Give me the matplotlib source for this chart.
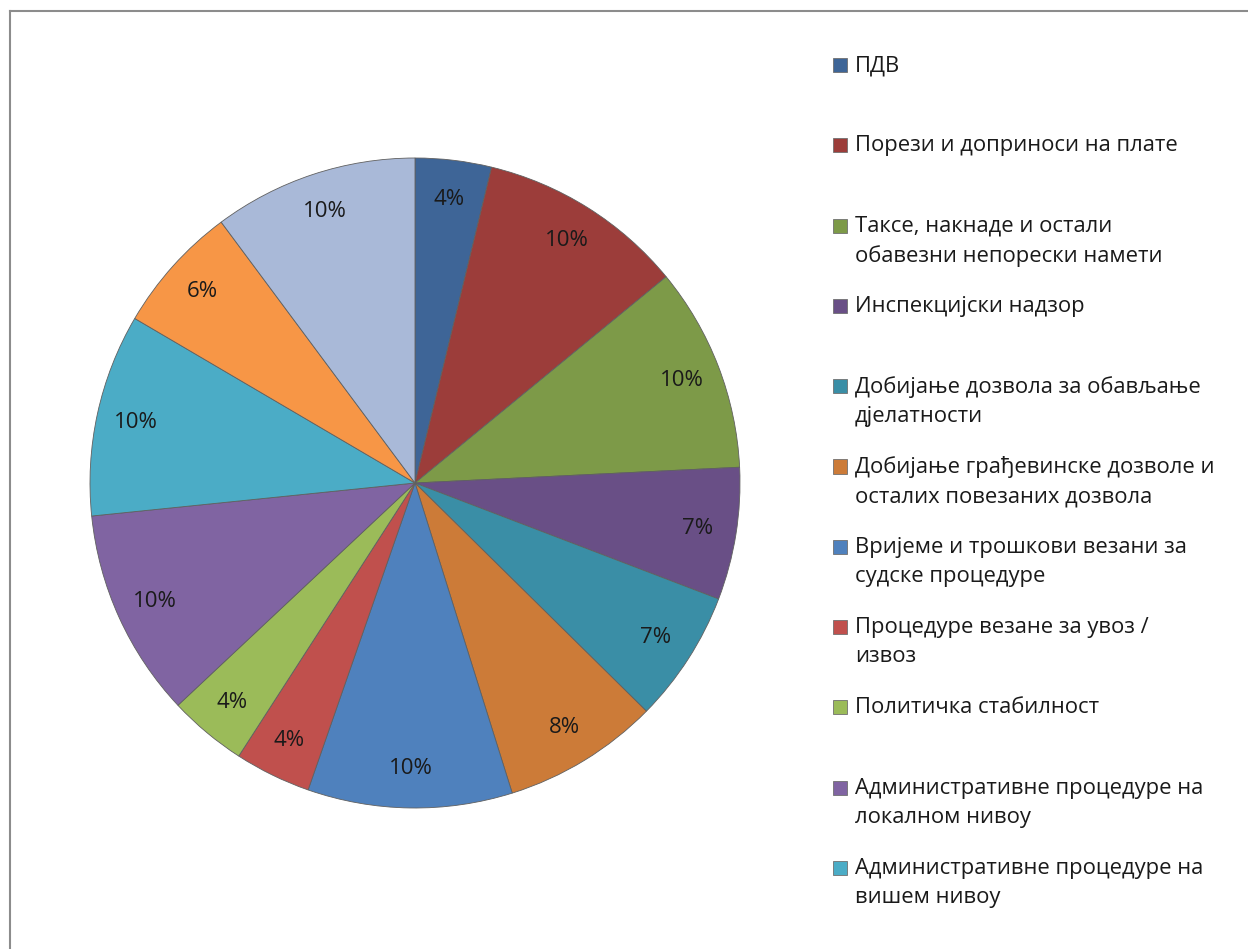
import matplotlib
matplotlib.use('Agg')
import matplotlib.pyplot as plt
import matplotlib.patches as patches
from matplotlib.lines import Line2D

plt.rcParams['font.family'] = ['Open Sans', 'DejaVu Sans']

# slice shares, clockwise from 12 o'clock
values = [3.8, 10.3, 10.2, 6.6, 6.6, 7.8, 10.2, 3.8, 3.9, 10.4, 10.1, 6.4, 10.2]
colors = ['#3E6597', '#9C3D3A', '#7D9A48', '#694F86', '#3A8EA6', '#CC7B38',
          '#4F81BD', '#C0504D', '#9BBB59', '#8064A2', '#4BACC6', '#F79646',
          '#A9B9D8']
# legend only shows the first 11 categories
labels = [
    'ПДВ',
    'Порези и доприноси на плате',
    'Таксе, накнаде и остали\nобавезни непорески намети',
    'Инспекцијски надзор',
    'Добијање дозвола за обављање\nдјелатности',
    'Добијање грађевинске дозволе и\nосталих повезаних дозвола',
    'Вријеме и трошкови везани за\nсудске процедуре',
    'Процедуре везане за увоз /\nизвоз',
    'Политичка стабилност',
    'Административне процедуре на\nлокалном нивоу',
    'Административне процедуре на\nвишем нивоу',
]

W, H = 1248, 949
fig = plt.figure(figsize=(W / 100, H / 100), dpi=100)

# pie centre and radius in pixels
cx, cy, r = 415, 483, 325
ax = fig.add_axes([(cx - r) / W, (H - cy - r) / H, 2 * r / W, 2 * r / H])
wedges, texts, autotexts = ax.pie(
    values, colors=colors, startangle=90, counterclock=False,
    autopct='%.0f%%', pctdistance=0.88, radius=1,
    wedgeprops=dict(edgecolor='#606060', linewidth=0.6),
    textprops=dict(fontsize=16, color='#1a1a1a'))
ax.set_xlim(-1, 1)
ax.set_ylim(-1, 1)
ax.set_aspect('equal')
ax.axis('off')

# legend, drawn by hand: one 80px slot per entry
for i, lab in enumerate(labels):
    y = 65 + 80.3 * i
    sq = patches.Rectangle((833 / W, 1 - (y + 7) / H), 14 / W, 14 / H,
                           transform=fig.transFigure, facecolor=colors[i],
                           edgecolor='#707070', linewidth=0.6)
    fig.add_artist(sq)
    fig.text(855 / W, 1 - (y - 10) / H, lab, fontsize=15.8, va='top',
             ha='left', color='#1a1a1a', linespacing=1.5)

# chart frame (top and left edges visible)
fig.add_artist(Line2D([10 / W, 1], [1 - 11 / H] * 2, color='#8c8c8c',
                      linewidth=1.5, transform=fig.transFigure))
fig.add_artist(Line2D([10 / W] * 2, [0, 1 - 11 / H], color='#8c8c8c',
                      linewidth=1.5, transform=fig.transFigure))

fig.savefig('out.png', dpi=100, facecolor='white')
